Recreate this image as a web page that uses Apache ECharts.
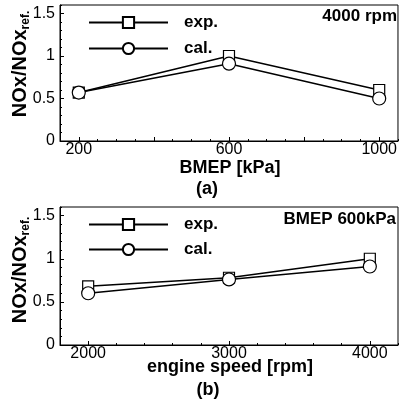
<!DOCTYPE html>
<html>
<head>
<meta charset="utf-8">
<script src="https://cdn.jsdelivr.net/npm/echarts@6/dist/echarts.min.js"></script>
<style>
html,body{margin:0;padding:0;background:#fff;}
#chart{width:400px;height:404px;}
</style>
</head>
<body>
<div id="chart"></div>
<script>
// ---- data ----
var bmep = [200, 600, 1000];
var expA = [0.57, 1.0, 0.6];
var calA = [0.57, 0.91, 0.5];
var speed = [2000, 3000, 4000];
var expB = [0.68, 0.78, 1.0];
var calB = [0.6, 0.76, 0.91];
var seriesNames = ['exp.', 'cal.'];
var yTickLabels = [0, 0.5, 1, 1.5];
var xLabelsA = [200, 600, 1000];
var xMajorA = [200, 400, 600, 800, 1000];
var xLabelsB = [2000, 3000, 4000];

var FONT = 'Liberation Sans, Arial, sans-serif';
function pairs(xs, ys){ return xs.map(function(x,i){ return [x, ys[i]]; }); }
function plain(v){ return String(v); }

var chart = echarts.init(document.getElementById('chart'), null, {renderer:'canvas'});

var grids = [
  {left:60, right:2, top:5, height:136, show:true, borderColor:'#000', borderWidth:1, backgroundColor:'transparent'},
  {left:60, right:2, top:207, height:138, show:true, borderColor:'#000', borderWidth:1, backgroundColor:'transparent'}
];

function mainX(gi, min, max, interval, labels, majors){
  return {
    type:'value', gridIndex:gi, position:'bottom', min:min, max:max, interval:interval,
    axisLine:{show:true, lineStyle:{color:'#000', width:1}},
    axisTick:{show:true, inside:true, length:4, customValues:majors, lineStyle:{color:'#000'}},
    axisLabel:{show:true, customValues:labels, formatter:plain, color:'#000', fontSize:16, fontFamily:FONT, margin:1},
    splitLine:{show:false}
  };
}
function minorX(gi, min, max, interval){
  return {
    type:'value', gridIndex:gi, position:'bottom', offset:0, min:min, max:max, interval:interval,
    axisLine:{show:false}, axisLabel:{show:false}, splitLine:{show:false},
    axisTick:{show:true, inside:true, length:2, lineStyle:{color:'#000'}}
  };
}
function mainY(gi){
  return {
    type:'value', gridIndex:gi, position:'left', min:0, max:1.6, interval:0.1,
    axisLine:{show:true, lineStyle:{color:'#000', width:1}},
    axisTick:{show:true, inside:true, length:4, customValues:yTickLabels, lineStyle:{color:'#000'}},
    axisLabel:{show:true, customValues:yTickLabels, formatter:plain, color:'#000', fontSize:16, fontFamily:FONT, margin:5},
    splitLine:{show:false}
  };
}
function minorY(gi){
  return {
    type:'value', gridIndex:gi, position:'left', offset:0, min:0, max:1.6, interval:0.1,
    axisLine:{show:false}, axisLabel:{show:false}, splitLine:{show:false},
    axisTick:{show:true, inside:true, length:2, lineStyle:{color:'#000'}}
  };
}

function mkSeries(name, sym, size, xi, yi, data){
  return {
    type:'line', name:name, xAxisIndex:xi, yAxisIndex:yi, data:data,
    symbol:sym, symbolSize:size, showAllSymbol:true,
    lineStyle:{color:'#000', width:1.5},
    itemStyle:{color:'#fff', borderColor:'#000', borderWidth:1.2},
    emphasis:{disabled:true}, animation:false, z:3
  };
}

function legend(top, gap){
  return {
    orient:'vertical', left:88, top:top, padding:0,
    itemWidth:79, itemHeight:14, itemGap:gap,
    data:seriesNames,
    textStyle:{color:'#000', fontSize:17, fontWeight:'bold', fontFamily:FONT, padding:[0,0,0,11]},
    selectedMode:false
  };
}

function yName(cx, cy){
  return {
    type:'text', x:cx, y:cy, rotation:Math.PI/2,
    style:{
      text:'{a|NOx/NOx}{b|ref.}',
      align:'center', verticalAlign:'middle',
      rich:{
        a:{fontSize:20, fontWeight:'bold', fontFamily:FONT, fill:'#000', lineHeight:24},
        b:{fontSize:12, fontWeight:'bold', fontFamily:FONT, fill:'#000', lineHeight:12, verticalAlign:'bottom'}
      }
    }
  };
}
function txt(x, y, s, align, size){
  return {type:'text', x:x, y:y, style:{text:s, align:align, verticalAlign:'middle', fontSize:size, fontWeight:'bold', fontFamily:FONT, fill:'#000'}};
}

chart.setOption({
  animation:false,
  backgroundColor:'#fff',
  grid:grids,
  xAxis:[
    mainX(0, 150, 1050, 50, xLabelsA, xMajorA),
    minorX(0, 150, 1050, 50),
    mainX(1, 1800, 4200, 200, xLabelsB, xLabelsB),
    minorX(1, 1800, 4200, 200)
  ],
  yAxis:[mainY(0), minorY(0), mainY(1), minorY(1)],
  legend:[legend(14, 9), legend(216, 8)],
  series:[
    mkSeries(seriesNames[0], 'rect', 11, 0, 0, pairs(bmep, expA)),
    mkSeries(seriesNames[1], 'circle', 13, 0, 0, pairs(bmep, calA)),
    mkSeries(seriesNames[0], 'rect', 11, 2, 2, pairs(speed, expB)),
    mkSeries(seriesNames[1], 'circle', 13, 2, 2, pairs(speed, calB))
  ],
  graphic:[
    yName(20, 64),
    yName(20, 270),
    txt(397, 16, '4000 rpm', 'right', 17),
    txt(396, 219, 'BMEP 600kPa', 'right', 17),
    txt(230, 168, 'BMEP [kPa]', 'center', 18),
    txt(230, 367, 'engine speed [rpm]', 'center', 18),
    txt(207, 189, '(a)', 'center', 18),
    txt(208, 390, '(b)', 'center', 18)
  ]
});
</script>
</body>
</html>
